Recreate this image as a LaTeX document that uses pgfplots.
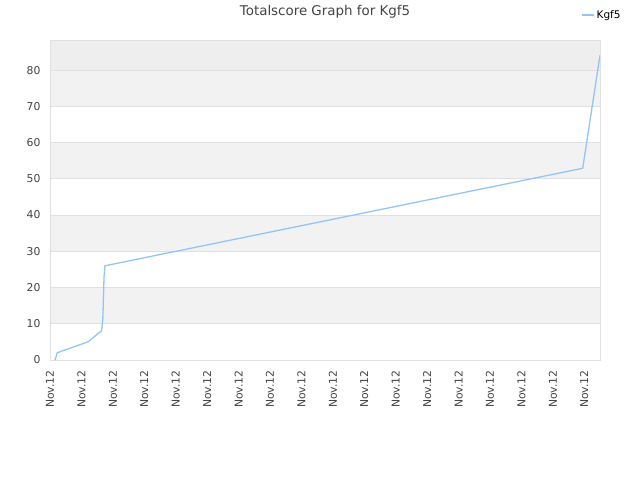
\documentclass[border=0pt]{standalone}
\usepackage{pgfplots}
\pgfplotsset{compat=1.18}
\usepackage{fontspec}
\setmainfont{DejaVu Sans}

\definecolor{lineblue}{HTML}{92C5F5}
\definecolor{bandgrey}{HTML}{F2F2F2}
\definecolor{topgrey}{HTML}{EEEEEE}
\definecolor{gridgrey}{HTML}{E0E0E0}
\definecolor{textgrey}{HTML}{444444}

\begin{document}
\begin{tikzpicture}
  \begin{axis}[
      at={(50bp,120bp)},
      anchor=south west,
      scale only axis,
      width=550bp,
      height=320bp,
      set layers,
      xmin=0, xmax=17.5,
      ymin=0, ymax=88.3,
      xtick={0,...,17},
      xticklabels={Nov.12,Nov.12,Nov.12,Nov.12,Nov.12,Nov.12,Nov.12,Nov.12,Nov.12,
                   Nov.12,Nov.12,Nov.12,Nov.12,Nov.12,Nov.12,Nov.12,Nov.12,Nov.12},
      ytick={0,10,...,80},
      major tick length=0pt,
      ymajorgrids,
      grid style={gridgrey, line width=0.6pt},
      axis line style={gridgrey, line width=0.8pt},
      tick label style={font=\fontsize{10.8bp}{12bp}\selectfont, text=textgrey},
      /pgf/number format/assume math mode=true,
      xticklabel style={rotate=90, anchor=east, xshift=-7bp},
      yticklabel style={anchor=east, xshift=-6bp},
      title={Totalscore Graph for Kgf5},
      title style={font=\fontsize{13.4bp}{15bp}\selectfont, text=textgrey, yshift=12bp},
      legend style={at={(axis description cs:1,1)}, anchor=center, yshift=25bp, xshift=2bp,
                    draw=none, fill=none, font=\fontsize{10.5bp}{12bp}\selectfont},
      legend image code/.code={\draw[#1] (0bp,0bp) -- (12bp,0bp);},
  ]
  % alternating background bands
  \begin{pgfonlayer}{axis background}
    \fill[bandgrey] (axis cs:0,10) rectangle (axis cs:17.5,20);
    \fill[bandgrey] (axis cs:0,30) rectangle (axis cs:17.5,40);
    \fill[bandgrey] (axis cs:0,50) rectangle (axis cs:17.5,60);
    \fill[bandgrey] (axis cs:0,70) rectangle (axis cs:17.5,80);
    \fill[topgrey] (axis cs:0,80) rectangle (axis cs:17.5,88.3);
  \end{pgfonlayer}

  \addplot[lineblue, line width=1.3pt, mark=none] coordinates {
      (0.16, 0)
      (0.21, 1.4)
      (0.23, 2.0)
      (1.22, 5.05)
      (1.64, 8.1)
      (1.68, 11)
      (1.70, 17)
      (1.72, 23)
      (1.75, 26)
      (16.95, 52.9)
      (17.50, 84.1)
  };
  \addlegendentry{Kgf5}
  \end{axis}
  \pgfresetboundingbox
  \useasboundingbox (0,0) rectangle (640bp,480bp);
\end{tikzpicture}
\end{document}
